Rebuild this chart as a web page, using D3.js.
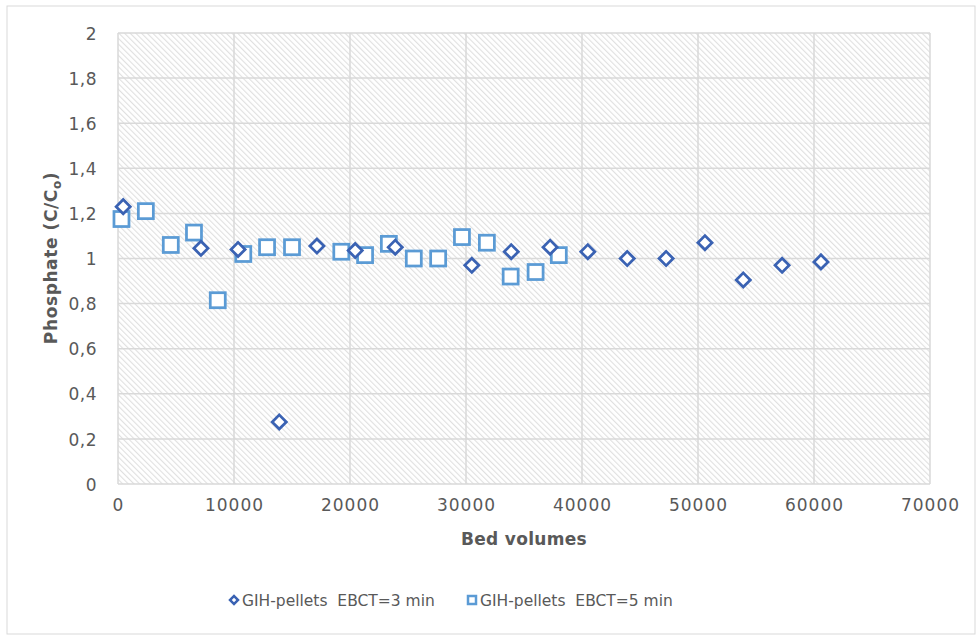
<!DOCTYPE html>
<html>
<head>
<meta charset="utf-8">
<script src="https://cdn.jsdelivr.net/npm/d3@7"></script>
<style>
  body { margin: 0; background: #fff; }
  text { font-family: "DejaVu Sans", sans-serif; fill: #595959; }
</style>
</head>
<body>
<svg width="977" height="635"></svg>
<script>
var svg = d3.select('svg');

// GIH-pellets EBCT=3 min (diamonds)
var bv3 = [450, 7150, 10350, 13900, 17150, 20450, 23900, 30500, 33900, 37250, 40500, 43900, 47250, 50600, 53900, 57250, 60600];
var c3  = [1.23, 1.045, 1.04, 0.275, 1.055, 1.035, 1.05, 0.97, 1.03, 1.05, 1.03, 1.0, 1.0, 1.07, 0.905, 0.97, 0.985];

// GIH-pellets EBCT=5 min (squares)
var bv5 = [300, 2400, 4550, 6550, 8600, 10800, 12850, 15000, 19250, 21300, 23350, 25500, 27600, 29650, 31800, 33850, 36000, 38000];
var c5  = [1.175, 1.21, 1.06, 1.115, 0.815, 1.02, 1.05, 1.05, 1.03, 1.015, 1.065, 1.0, 1.0, 1.095, 1.07, 0.92, 0.94, 1.015];

var xTicks = [0, 10000, 20000, 30000, 40000, 50000, 60000, 70000];
var yTicks = [0, 0.2, 0.4, 0.6, 0.8, 1, 1.2, 1.4, 1.6, 1.8, 2];
var seriesNames = ['GIH-pellets  EBCT=3 min', 'GIH-pellets  EBCT=5 min'];
var colors = ['#3a62b3', '#5b9bd5'];

var x = d3.scaleLinear().domain([0, 70000]).range([118, 930]);
var y = d3.scaleLinear().domain([0, 2]).range([484, 33]);

// outer border
svg.append('rect')
    .attr('x', 7).attr('y', 6)
    .attr('width', 968).attr('height', 628)
    .attr('fill', 'none')
    .attr('stroke', '#d9d9d9')
    .attr('stroke-width', 1);

// hatch pattern
var defs = svg.append('defs');
var pat = defs.append('pattern')
    .attr('id', 'hatch')
    .attr('patternUnits', 'userSpaceOnUse')
    .attr('width', 4).attr('height', 4)
    .attr('patternTransform', 'rotate(-45)');
pat.append('rect').attr('width', 4).attr('height', 4).attr('fill', '#fff');
pat.append('line')
    .attr('x1', 0).attr('y1', 0).attr('x2', 0).attr('y2', 4)
    .attr('stroke', '#e0e0e0')
    .attr('stroke-width', 2.2);

svg.append('rect')
    .attr('x', x(0)).attr('y', y(2))
    .attr('width', x(70000) - x(0)).attr('height', y(0) - y(2))
    .attr('fill', 'url(#hatch)');

// gridlines
svg.selectAll('.hgrid')
    .data(yTicks)
    .enter()
    .append('line')
    .attr('x1', x(0)).attr('x2', x(70000))
    .attr('y1', function(d){ return y(d); })
    .attr('y2', function(d){ return y(d); })
    .attr('stroke', '#d9d9d9')
    .attr('stroke-width', 1.5);

svg.selectAll('.vgrid')
    .data(xTicks)
    .enter()
    .append('line')
    .attr('y1', y(0)).attr('y2', y(2))
    .attr('x1', function(d){ return x(d); })
    .attr('x2', function(d){ return x(d); })
    .attr('stroke', '#d9d9d9')
    .attr('stroke-width', 1.5);

// axes
var fmtY = function(d){ return String(d).replace('.', ','); };

var yAxis = svg.append('g')
    .attr('transform', 'translate(' + (x(0) - 18) + ',0)')
    .call(d3.axisLeft(y).tickValues(yTicks).tickFormat(fmtY).tickSize(0));
yAxis.select('.domain').remove();
yAxis.selectAll('text')
    .attr('font-size', 17)
    .attr('font-family', 'DejaVu Sans')
    .attr('fill', '#595959')
    .attr('letter-spacing', 0.5)
    .attr('dy', '0.36em');

var xAxis = svg.append('g')
    .attr('transform', 'translate(0,' + (y(0) + 12) + ')')
    .call(d3.axisBottom(x).tickValues(xTicks).tickFormat(d3.format('d')).tickSize(0));
xAxis.select('.domain').remove();
xAxis.selectAll('text')
    .attr('font-size', 17)
    .attr('font-family', 'DejaVu Sans')
    .attr('fill', '#595959')
    .attr('letter-spacing', 1)
    .attr('dy', '0.71em');

// axis titles
svg.append('text')
    .attr('x', 524).attr('y', 545)
    .attr('text-anchor', 'middle')
    .attr('font-size', 17)
    .attr('font-weight', 'bold')
    .attr('letter-spacing', 0.3)
    .text('Bed volumes');

var yt = svg.append('text')
    .attr('transform', 'translate(57,258) rotate(-90)')
    .attr('text-anchor', 'middle')
    .attr('font-size', 17)
    .attr('font-weight', 'bold')
    .attr('letter-spacing', 0.6);
yt.append('tspan').text('Phosphate (C/C');
yt.append('tspan').attr('font-size', 12).attr('dy', 4).text('o');
yt.append('tspan').attr('dy', -4).text(')');

// markers
var diamond = d3.symbol().type(d3.symbolSquare).size(100);

var pts3 = bv3.map(function(d, i){ return {x: d, y: c3[i]}; });
var pts5 = bv5.map(function(d, i){ return {x: d, y: c5[i]}; });

svg.selectAll('.sq')
    .data(pts5)
    .enter()
    .append('rect')
    .attr('x', function(d){ return x(d.x) - 7.5; })
    .attr('y', function(d){ return y(d.y) - 7.5; })
    .attr('width', 15).attr('height', 15)
    .attr('fill', '#fff')
    .attr('stroke', colors[1])
    .attr('stroke-width', 2.75);

svg.selectAll('.dm')
    .data(pts3)
    .enter()
    .append('path')
    .attr('d', diamond)
    .attr('transform', function(d){
        return 'translate(' + x(d.x) + ',' + y(d.y) + ') rotate(45)';
    })
    .attr('fill', '#fff')
    .attr('stroke', colors[0])
    .attr('stroke-width', 2.75);

// legend
var lg = svg.append('g');
lg.append('path')
    .attr('d', d3.symbol().type(d3.symbolSquare).size(32))
    .attr('transform', 'translate(234,600) rotate(45)')
    .attr('fill', '#fff')
    .attr('stroke', colors[0])
    .attr('stroke-width', 2.5);
lg.append('rect')
    .attr('x', 468).attr('y', 596)
    .attr('width', 8).attr('height', 8)
    .attr('fill', '#fff')
    .attr('stroke', colors[1])
    .attr('stroke-width', 2.5);
lg.selectAll('.lt')
    .data(seriesNames)
    .enter()
    .append('text')
    .attr('x', function(d, i){ return i === 0 ? 242 : 480; })
    .attr('y', 606)
    .attr('font-size', 15.5)
    .attr('xml:space', 'preserve')
    .style('white-space', 'pre')
    .text(function(d){ return d; });
</script>
</body>
</html>
